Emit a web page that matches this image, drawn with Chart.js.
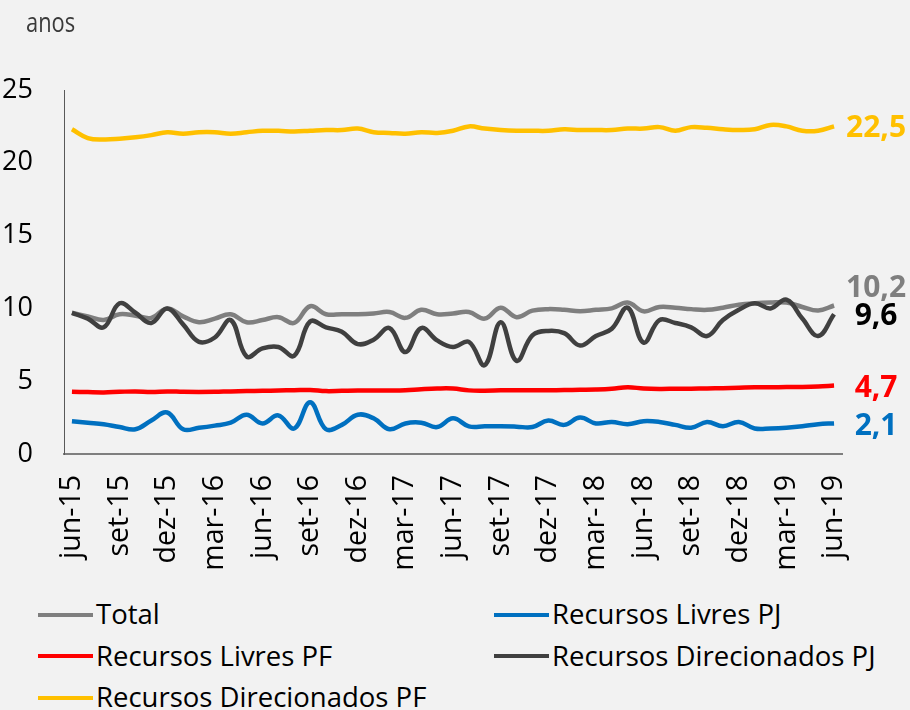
<!DOCTYPE html>
<html lang="pt">
<head>
<meta charset="utf-8">
<script src="https://cdn.jsdelivr.net/npm/chart.js@4/dist/chart.umd.min.js"></script>
<style>
  body { margin: 0; background: #f2f2f2; }
  #box { position: relative; width: 910px; height: 710px; background: #f2f2f2; overflow: hidden; }
  #titulo { position: absolute; left: 26px; top: 6px; font: 28px/30px "Open Sans", sans-serif; color: #3a3a3a; transform: scaleX(0.78); transform-origin: left top; }
  #grafico { position: absolute; left: 0; top: 0; }
  #legenda { position: absolute; left: 38px; top: 593px; width: 870px; font: 27.5px/41.5px "Open Sans", sans-serif; color: #000; }
  .item { position: absolute; white-space: nowrap; }
  .item span.linha { display: inline-block; width: 55px; height: 4px; vertical-align: middle; margin-right: 3px; position: relative; top: -2px; }
</style>
</head>
<body>
<div id="box">
  <canvas id="grafico" width="910" height="590"></canvas>
  <div id="titulo">anos</div>
  <div id="legenda"></div>
</div>
<script>
const meses = ['jun-15','jul-15','ago-15','set-15','out-15','nov-15','dez-15','jan-16','fev-16','mar-16','abr-16','mai-16',
  'jun-16','jul-16','ago-16','set-16','out-16','nov-16','dez-16','jan-17','fev-17','mar-17','abr-17','mai-17',
  'jun-17','jul-17','ago-17','set-17','out-17','nov-17','dez-17','jan-18','fev-18','mar-18','abr-18','mai-18',
  'jun-18','jul-18','ago-18','set-18','out-18','nov-18','dez-18','jan-19','fev-19','mar-19','abr-19','mai-19','jun-19'];

const total = [9.7, 9.45, 9.2, 9.6, 9.5, 9.35, 10.0, 9.45, 9.05, 9.3, 9.6, 9.05, 9.2, 9.4, 9.0, 10.15, 9.6, 9.6, 9.6, 9.65,
  9.75, 9.35, 9.9, 9.6, 9.65, 9.75, 9.3, 10.05, 9.4, 9.85, 9.95, 9.9, 9.8, 9.9, 10.0, 10.4, 9.8, 10.1, 10.05, 9.95,
  9.9, 10.05, 10.25, 10.35, 10.4, 10.4, 10.1, 9.85, 10.2];
const livresPJ = [2.25, 2.15, 2.05, 1.85, 1.7, 2.3, 2.85, 1.7, 1.8, 1.95, 2.15, 2.7, 2.1, 2.65, 1.75, 3.55, 1.7, 2.0, 2.7, 2.45,
  1.7, 2.1, 2.15, 1.85, 2.45, 1.9, 1.9, 1.9, 1.88, 1.85, 2.3, 2.0, 2.5, 2.1, 2.2, 2.05, 2.25, 2.2, 2.0, 1.8,
  2.2, 1.9, 2.2, 1.75, 1.75, 1.8, 1.9, 2.05, 2.1];
const livresPF = [4.28, 4.25, 4.23, 4.27, 4.3, 4.25, 4.3, 4.27, 4.26, 4.27, 4.3, 4.32, 4.34, 4.36, 4.38, 4.4, 4.32, 4.34, 4.36, 4.36,
  4.36, 4.38, 4.45, 4.5, 4.5, 4.37, 4.35, 4.37, 4.38, 4.38, 4.38, 4.39, 4.41, 4.43, 4.48, 4.58, 4.5, 4.47, 4.48, 4.49,
  4.5, 4.52, 4.55, 4.58, 4.58, 4.6, 4.6, 4.63, 4.7];
const direcPJ = [9.7, 9.3, 8.7, 10.35, 9.7, 9.0, 10.0, 8.9, 7.7, 8.0, 9.2, 6.7, 7.25, 7.35, 6.75, 9.1, 8.7, 8.4, 7.55, 7.85,
  8.65, 7.0, 8.65, 7.8, 7.35, 7.7, 6.1, 9.05, 6.4, 8.15, 8.45, 8.3, 7.45, 8.1, 8.6, 10.05, 7.65, 9.2, 9.0, 8.7,
  8.1, 9.2, 9.9, 10.35, 10.0, 10.6, 9.3, 8.1, 9.6];
const direcPF = [22.3, 21.7, 21.6, 21.65, 21.75, 21.9, 22.1, 22.0, 22.1, 22.1, 22.0, 22.1, 22.2, 22.2, 22.15, 22.2, 22.25, 22.25, 22.35, 22.1,
  22.05, 22.0, 22.1, 22.05, 22.2, 22.5, 22.35, 22.25, 22.2, 22.2, 22.2, 22.3, 22.25, 22.25, 22.25, 22.35, 22.35, 22.45, 22.2, 22.45,
  22.4, 22.3, 22.25, 22.3, 22.6, 22.5, 22.2, 22.2, 22.5];

const nomes = ['Total', 'Recursos Livres PJ', 'Recursos Livres PF', 'Recursos Direcionados PJ', 'Recursos Direcionados PF'];
const series = [total, livresPJ, livresPF, direcPJ, direcPF];
const cores = ['#7f7f7f', '#0070c0', '#ff0000', '#404040', '#ffc000'];
const coresRotulo = ['#7f7f7f', '#0070c0', '#ff0000', '#000000', '#ffc000'];
const rotuloDy = [-17, 3, 3, 2, 2];

// rótulo do último valor à direita de cada linha
const rotulosFinais = {
  id: 'rotulosFinais',
  afterDatasetsDraw(chart) {
    const ctx = chart.ctx;
    ctx.save();
    ctx.font = 'bold 30px "Open Sans", sans-serif';
    ctx.textAlign = 'center';
    ctx.textBaseline = 'middle';
    chart.data.datasets.forEach((ds, i) => {
      const meta = chart.getDatasetMeta(i);
      const pt = meta.data[meta.data.length - 1];
      const v = ds.data[ds.data.length - 1];
      ctx.fillStyle = coresRotulo[i];
      ctx.fillText(v.toFixed(1).replace('.', ','), pt.x + 42, pt.y + rotuloDy[i]);
    });
    ctx.restore();
  }
};

new Chart(document.getElementById('grafico'), {
  type: 'line',
  data: {
    labels: meses,
    datasets: series.map((s, i) => ({
      label: nomes[i],
      data: s,
      borderColor: cores[i],
      backgroundColor: cores[i],
      borderWidth: 4.5,
      pointRadius: 0,
      tension: 0.4,
      fill: false,
      order: i === 3 ? 0 : 1
    }))
  },
  options: {
    responsive: false,
    animation: false,
    layout: { padding: { top: 90, right: 68, bottom: 0, left: 0 } },
    plugins: { legend: { display: false }, tooltip: { enabled: false } },
    scales: {
      x: {
        offset: true,
        grid: { display: false, drawTicks: false },
        border: { display: true, color: '#7f7f7f', width: 2 },
        ticks: {
          autoSkip: false,
          maxRotation: 90,
          minRotation: 90,
          padding: 21,
          color: '#000',
          font: { family: '"Open Sans", sans-serif', size: 28.5 },
          callback: function (value, index) { return index % 3 === 0 ? this.getLabelForValue(value) : ''; }
        },
        afterFit: (s) => { s.height = 136; }
      },
      y: {
        min: 0,
        max: 25,
        grid: { display: false, drawTicks: false },
        border: { display: true, color: '#595959', width: 1 },
        ticks: {
          stepSize: 5,
          padding: 31,
          color: '#000',
          font: { family: '"Open Sans", sans-serif', size: 27 }
        },
        afterFit: (s) => { s.width = 64; }
      }
    }
  },
  plugins: [rotulosFinais]
});

// legenda em duas colunas
const posLegenda = [[0, 0], [456, 0], [0, 1], [456, 1], [0, 2]];
const leg = document.getElementById('legenda');
nomes.forEach((n, i) => {
  const d = document.createElement('div');
  d.className = 'item';
  d.style.left = posLegenda[i][0] + 'px';
  d.style.top = (posLegenda[i][1] * 41.5) + 'px';
  d.innerHTML = '<span class="linha" style="background:' + cores[i] + '"></span>' + n;
  leg.appendChild(d);
});
</script>
</body>
</html>
